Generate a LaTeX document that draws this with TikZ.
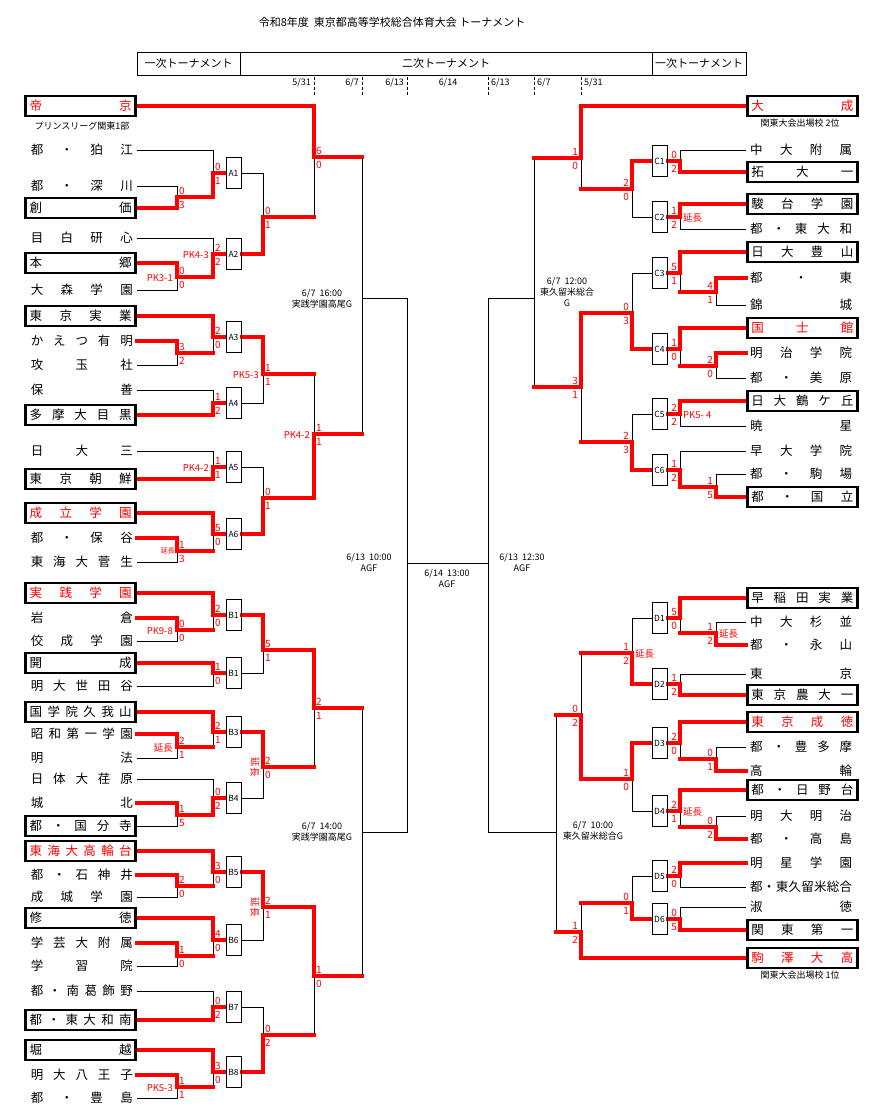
\documentclass[tikz,border=0pt]{standalone}
\usepackage{fontspec}
\setmainfont{Noto Sans CJK JP}
\usetikzlibrary{calc, backgrounds}
\newcommand\spreadtext[1]{\edef\spreadtmp{#1}\makebox[102pt][s]{\expandafter\spreadchars\spreadtmp\spreadend}}
\def\spreadchars#1#2\spreadend{#1\ifx\relax#2\relax\else\hfill\spreadchars#2\spreadend\fi}
\tikzset{
  team/.style={minimum width=110pt, minimum height=20pt, inner sep=0pt, font=\fontsize{12.5}{14}\selectfont},
  seed/.style={team, draw, line width=2.6pt},
  seedr/.style={seed, text=red},
  blk/.style={draw, line width=0.8pt, minimum width=15pt, minimum height=31pt, inner sep=0pt, font=\fontsize{8.5}{9}\selectfont},
  lose/.style={line width=0.9pt},
  win/.style={draw=red, line width=3.3pt, line cap=rect},
  sc/.style={text=red, inner sep=0pt, font=\fontsize{10}{10}\selectfont},
  note/.style={text=red, inner sep=0pt, font=\fontsize{9.5}{10}\selectfont},
  info/.style={align=center, inner sep=0pt, font=\fontsize{9}{11}\selectfont},
  hbox/.style={draw, line width=0.8pt, minimum height=23pt, inner sep=0pt, font=\fontsize{11}{12}\selectfont},
  dt/.style={inner sep=0pt, font=\fontsize{9}{9}\selectfont},
  tick/.style={dash pattern=on 3pt off 2pt, line width=0.8pt},
}
\def\mixlist{p1/q1, f3/A3-in, f4/A6-in, p2/q2, q1/r1, q2/r1, f5/B1-in, f6/B3-in, p5/q3, f8/B5-in, f9/B6-in, f10/B8-in, p7/q4, q3/r2, q4/r2,
  h1/k1, g1/C3-in, g2/C4-in, h3/k2, k1/s1, k2/s1, g4/D1-in, g5/D3-in, g6/D4-in, h4/k3, h6/k4, k3/s2, k4/s2}
\begin{document}
\begin{tikzpicture}[x=1pt, y=-1pt]
  \useasboundingbox (0,0) rectangle (878,1118);
  % title and header
  \node[font=\fontsize{11}{12}\selectfont] (ttl) at (392,22) {令和8年度\ \ 東京都高等学校総合体育大会 トーナメント};
  \node[hbox, minimum width=103pt] (hl) at (188.5,63.5) {一次トーナメント};
  \node[hbox, minimum width=412pt] (hm) at (446,63.5) {二次トーナメント};
  \node[hbox, minimum width=94pt] (hr) at (699,63.5) {一次トーナメント};
  \node[dt, anchor=east] (d1) at (311,83) {5/31};
  \node[dt, anchor=east] (d2) at (359,83) {6/7};
  \node[dt, anchor=east] (d3) at (404,83) {6/13};
  \node[dt] (d4) at (448,83) {6/14};
  \node[dt, anchor=west] (d5) at (491,83) {6/13};
  \node[dt, anchor=west] (d6) at (537,83) {6/7};
  \node[dt, anchor=west] (d7) at (584,83) {5/31};
  \foreach \x in {314,362,407,488,534,581} \draw[tick] (\x,77) -- (\x,95);
  % teams
  \foreach \id/\y/\st/\nm in {L1/106/seedr/帝京, L2/150/team/都・狛江, L3/186/team/都・深川, L4/208/seed/創価,
    L5/238/team/目白研心, L6/263/seed/本郷, L7/290/team/大森学園, L8/316/seed/東京実業, L9/341/team/かえつ有明,
    L10/365/team/攻玉社, L11/390/team/保善, L12/415/seed/多摩大目黒, L13/451/team/日大三, L14/479/seed/東京朝鮮,
    L15/513/seedr/成立学園, L16/538/team/都・保谷, L17/562/team/東海大菅生, L18/593/seedr/実践学園, L19/618/team/岩倉,
    L20/641/team/佼成学園, L21/663/seed/開成, L22/686/team/明大世田谷, L23/712/seed/国学院久我山, L24/734/team/昭和第一学園,
    L25/758/team/明法, L26/779/team/日体大荏原, L27/803/team/城北, L28/826/seed/都・国分寺, L29/851/seedr/東海大高輪台,
    L30/875/team/都・石神井, L31/897/team/成城学園, L32/918/seed/修徳, L33/943/team/学芸大附属, L34/966/team/学習院,
    L35/991/team/都・南葛飾野, L36/1020/seed/都・東大和南, L37/1050/seed/堀越, L38/1075/team/明大八王子, L39/1098/team/都・豊島}
    \node[\st, anchor=east] (\id) at (137,\y) {\spreadtext{\nm}};
  \foreach \id/\y/\st/\nm in {R1/106/seedr/大成, R2/150/team/中大附属, R3/172/seed/拓大一, R4/204/seed/駿台学園,
    R5/229/team/都・東大和, R6/252/seed/日大豊山, R7/278/team/都・東, R8/305/team/錦城, R9/328/seedr/国士館,
    R10/353/team/明治学院, R11/378/team/都・美原, R12/401/seed/日大鶴ケ丘, R13/426/team/暁星, R14/451/team/早大学院,
    R15/474/team/都・駒場, R16/497/seed/都・国立, R17/598/seed/早稲田実業, R18/622/team/中大杉並, R19/645/team/都・永山,
    R20/674/team/東京, R21/695/seed/東京農大一, R22/722/seedr/東京成徳, R23/747/team/都・豊多摩, R24/771/team/高輪,
    R25/790/seed/都・日野台, R26/816/team/明大明治, R27/839/team/都・高島, R28/863/team/明星学園,
    R29/887/team/都・東久留米総合, R30/907/team/淑徳, R31/930/seed/関東第一, R32/958/seedr/駒澤大高}
    \node[\st, anchor=west] (\id) at (746,\y) {\spreadtext{\nm}};
  \node[info] (sub1) at (82,126) {プリンスリーグ関東1部};
  \node[info] (sub2) at (800,123) {関東大会出場校 2位};
  \node[info] (sub3) at (800,975) {関東大会出場校 1位};
  % match boxes
  \foreach \id/\lb/\y in {A1/A1/173, A2/A2/254, A3/A3/337, A4/A4/403, A5/A5/467, A6/A6/534, B1/B1/615,
    B2/B1/673, B3/B3/732, B4/B4/798, B5/B5/872, B6/B6/940, B7/B7/1007, B8/B8/1072}
    {\node[blk] (\id) at (233.5,\y) {\lb}; \coordinate (\id-in) at (213,\y);}
  \foreach \id/\y in {C1/161, C2/217, C3/273, C4/349, C5/414, C6/470, D1/618, D2/684, D3/743, D4/811, D5/876, D6/919}
    {\node[blk] (\id) at (659.5,\y) {\id}; \coordinate (\id-in) at (680,\y);}
  % junctions
  \foreach \id/\x/\y in {f1/177/197, f2/177/277, f3/177/353, f4/177/551, f5/177/630, f6/177/747, f7/177/815,
    f8/177/886, f9/177/956, f10/177/1087, p1/263/217, p2/263/374, p3/263/498, p4/263/650, p5/263/767, p6/263/907,
    p7/263/1035, q1/314/157, q2/314/434, q3/314/708, q4/314/976, r1/362/298, r2/362/832, fl/407/563,
    g1/716/292, g2/716/366, g3/716/487, g4/716/633, g5/716/759, g6/716/827, h1/632/189, h2/632/313, h3/632/442,
    h4/632/653, h5/632/779, h6/632/903, k1/581/158, k2/581/387, k3/581/715, k4/581/932, s1/534/298, s2/556/832, fr/488/563}
    \coordinate (\id) at (\x,\y);
  \node[info] (m1) at (322,298.5) {6/7\ \ 16:00\\実践学園高尾G};
  \node[info] (m2) at (322,831.5) {6/7\ \ 14:00\\実践学園高尾G};
  \node[info] (m3) at (369,562.5) {6/13\ \ 10:00\\AGF};
  \node[info] (m4) at (447,578.5) {6/14\ \ 13:00\\AGF};
  \node[info] (m5) at (522,562.5) {6/13\ \ 12:30\\AGF};
  \node[info] (m6) at (567,292) {6/7\ \ 12:00\\東久留米総合\\G};
  \node[info] (m7) at (593,831) {6/7\ \ 10:00\\東久留米総合G};
  % bracket lines
  \begin{scope}[on background layer]
    \foreach \a/\b in {L3.east/f1, L2.east/A1-in, L7.east/f2, L5.east/A2-in, A1.east/p1, L10.east/f3, L11.east/A4-in,
      A4.east/p2, L13.east/A5-in, L17.east/f4, A5.east/p3, L20.east/f5, L22.east/B2-in, B2.east/p4, L25.east/f6,
      L28.east/f7, L26.east/B4-in, B4.east/p5, L31.east/f8, L34.east/f9, B6.east/p6, L35.east/B7-in, L39.east/f10,
      B7.east/p7, r1/fl, r2/fl,
      R2.west/C1-in, R5.west/C2-in, C2.west/h1, R8.west/g1, R11.west/g2, C3.west/h2, R13.west/C5-in, R15.west/g3,
      R14.west/C6-in, C5.west/h3, R18.west/g4, R20.west/D2-in, D1.west/h4, R23.west/g5, R26.west/g6, D4.west/h5,
      R29.west/D5-in, R30.west/D6-in, D5.west/h6, s1/fr, s2/fr}
      \draw[lose] (\a) -| (\b);
    \foreach \a/\b in \mixlist \draw[lose] (\a -| \b) -- (\b);
    \draw[lose] (fl) -- (fr);
    \foreach \a/\b in \mixlist \draw[win] (\a) -- (\a -| \b);
    \foreach \a/\b in {L4.east/f1, f1/A1-in, L6.east/f2, f2/A2-in, A2.east/p1, L1.east/q1, L9.east/f3, L8.east/A3-in,
      L12.east/A4-in, A3.east/p2, L14.east/A5-in, L16.east/f4, L15.east/A6-in, A6.east/p3, p3/q2, L19.east/f5,
      L18.east/B1-in, L21.east/B2-in, B1.east/p4, L24.east/f6, L23.east/B3-in, L27.east/f7, f7/B4-in, B3.east/p5,
      p4/q3, L30.east/f8, L29.east/B5-in, L33.east/f9, L32.east/B6-in, B5.east/p6, L36.east/B7-in, L38.east/f10,
      L37.east/B8-in, B8.east/p7, p6/q4,
      R3.west/C1-in, R4.west/C2-in, C1.west/h1, R1.west/k1, R7.west/g1, R6.west/C3-in, R10.west/g2, R9.west/C4-in,
      C4.west/h2, R12.west/C5-in, R16.west/g3, g3/C6-in, C6.west/h3, h2/k2, R19.west/g4, R17.west/D1-in,
      R21.west/D2-in, D2.west/h4, R24.west/g5, R22.west/D3-in, R27.west/g6, R25.west/D4-in, D3.west/h5, h5/k3,
      R28.west/D5-in, R31.west/D6-in, D6.west/h6, R32.west/k4}
      \draw[win] (\a) -| (\b);
    \foreach \id in {A1,A2,A3,A4,A5,A6,B1,B2,B3,B4,B5,B6,B7,B8} \draw[win] (\id-in) -- (\id.west);
    \foreach \id in {C1,C2,C3,C4,C5,C6,D1,D2,D3,D4,D5,D6} \draw[win] (\id-in) -- (\id.east);
  \end{scope}
  % scores
  \foreach \j/\sa/\sb in {f1/0/3, A1-in/0/1, f2/0/0, A2-in/2/2, p1/0/1, q1/6/0, f3/3/2, A3-in/2/0, A4-in/1/2, p2/1/1,
    A5-in/1/1, f4/1/3, A6-in/5/0, p3/0/1, q2/1/1, f5/0/0, B1-in/2/0, B2-in/1/0, p4/5/1, f6/2/1, B3-in/2/1, f7/1/5,
    B4-in/0/2, p5/2/0, q3/2/1, f8/2/0, B5-in/3/0, f9/1/0, B6-in/4/0, p6/2/1, B7-in/0/2, f10/1/1, B8-in/3/0, p7/0/2, q4/1/0}
    {\node[sc, anchor=west] (\j-a) at ($(\j)+(2,-6)$) {\sa};
     \node[sc, anchor=west] (\j-b) at ($(\j)+(2,8)$) {\sb};}
  \foreach \j/\sa/\sb in {C1-in/0/2, C2-in/1/2, h1/2/0, k1/1/0, g1/4/1, C3-in/5/1, g2/2/0, C4-in/1/0, h2/0/3, C5-in/2/2,
    g3/1/5, C6-in/1/2, h3/2/3, k2/3/1, g4/1/2, D1-in/5/0, D2-in/1/2, h4/1/2, g5/0/1, D3-in/2/0, g6/0/2, D4-in/2/1,
    h5/1/0, k3/0/2, D5-in/2/0, D6-in/0/5, h6/0/1, k4/1/2}
    {\node[sc, anchor=east] (\j-a) at ($(\j)+(-3,-6)$) {\sa};
     \node[sc, anchor=east] (\j-b) at ($(\j)+(-3,8)$) {\sb};}
  % notes
  \foreach \j/\tx in {A2-in/PK4-3, f2/PK3-1, p2/PK5-3, q2/PK4-2, A5-in/PK4-2, f5/PK9-8, f6/延長, f10/PK5-3}
    \node[note, anchor=east] (\j-n) at ($(\j)+(-4,1)$) {\tx};
  \node[note, anchor=east, font=\fontsize{7}{7}\selectfont] (f4-n) at ($(f4)+(-2,0)$) {延長};
  \node[note, rotate=-90] (p5-n) at ($(p5)+(-8,0)$) {延長};
  \node[note, rotate=-90] (p6-n) at ($(p6)+(-8,0)$) {延長};
  \foreach \j/\tx in {C2-in/延長, C5-in/PK5- 4, g4/延長, h4/延長, D4-in/延長}
    \node[note, anchor=west] (\j-n) at ($(\j)+(3,1)$) {\tx};
\end{tikzpicture}
\end{document}
